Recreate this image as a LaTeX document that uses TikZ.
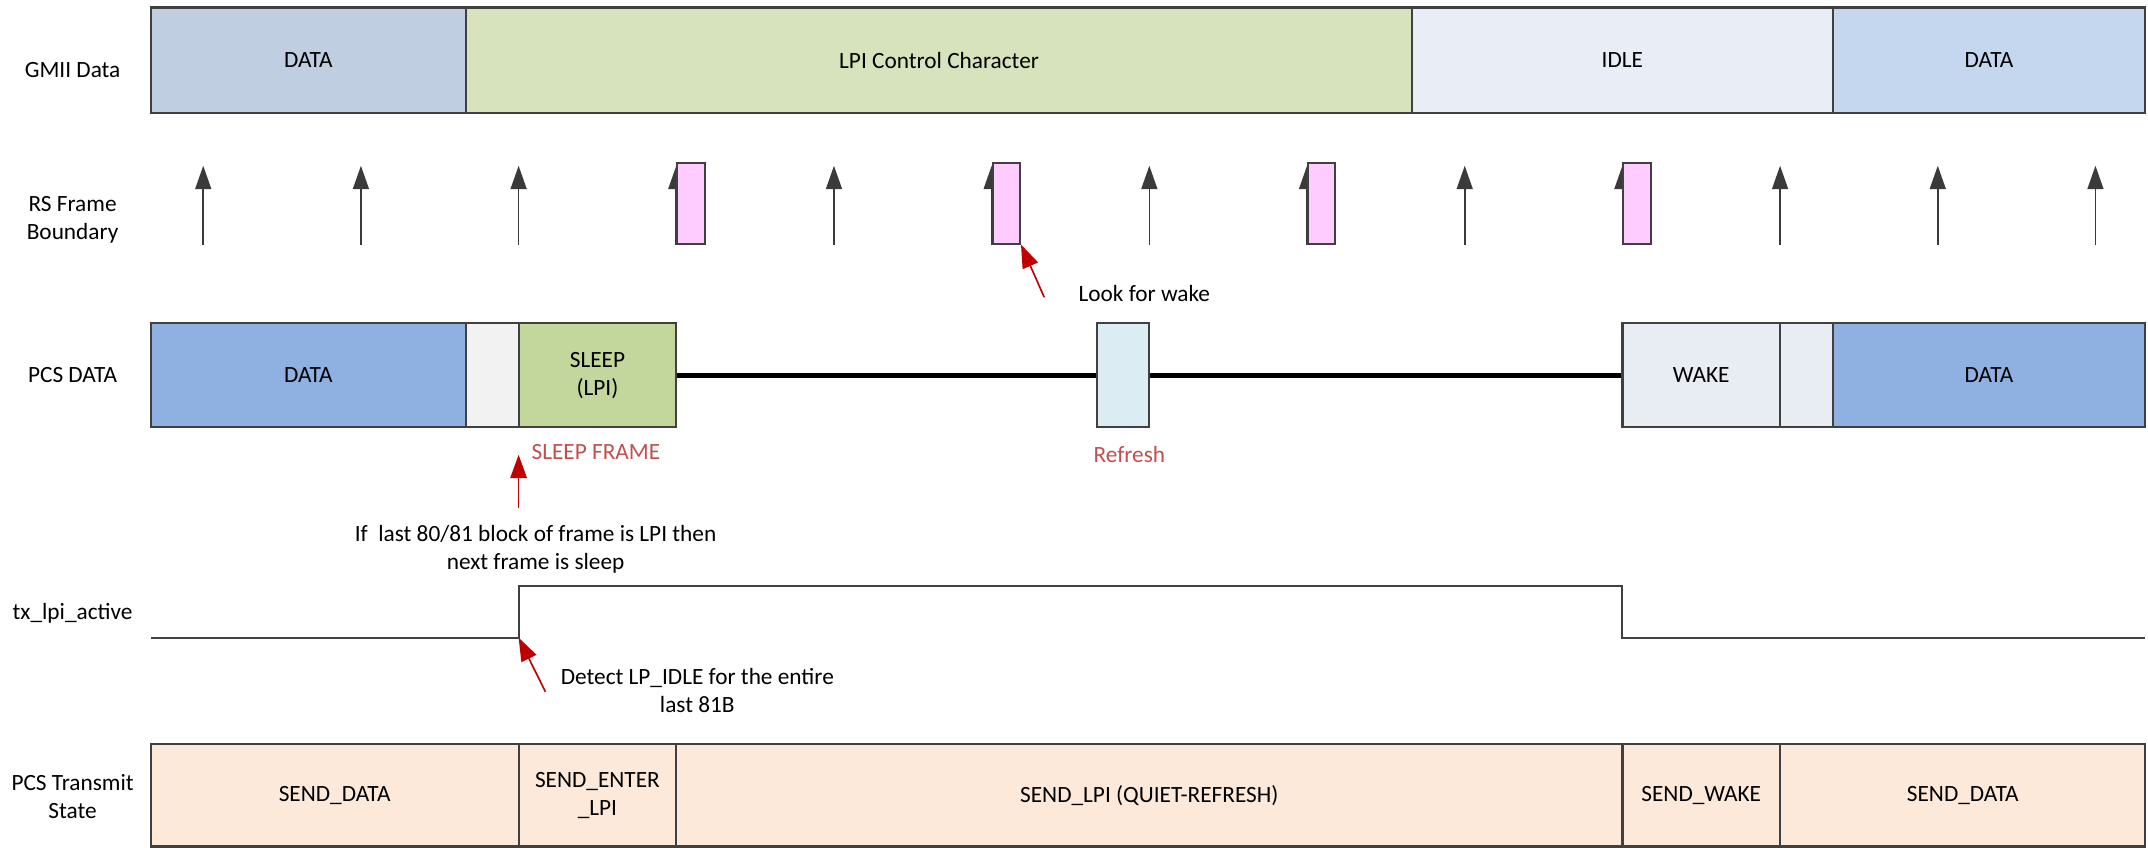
\documentclass[tikz,border=0pt]{standalone}
\usepackage{fontspec}
\setmainfont{Carlito}
\usetikzlibrary{arrows.meta}
\definecolor{cGa}{HTML}{C0CEE1}
\definecolor{cGb}{HTML}{D7E3BC}
\definecolor{cGc}{HTML}{E9EDF5}
\definecolor{cGd}{HTML}{C5D7EE}
\definecolor{cPd}{HTML}{8EB1E1}
\definecolor{cGray}{HTML}{F2F2F2}
\definecolor{cSleep}{HTML}{C3D69B}
\definecolor{cRef}{HTML}{DBECF2}
\definecolor{cWake}{HTML}{E8EDF4}
\definecolor{cSt}{HTML}{FCE9DA}
\definecolor{cPink}{HTML}{FFCCFF}
\definecolor{cEdge}{HTML}{404040}
\definecolor{cArr}{HTML}{3A3A3A}
\definecolor{cRed}{HTML}{C00000}
\definecolor{cRedT}{HTML}{C0504D}
\newcommand\kw{19.185pt}
\begin{document}
\begin{tikzpicture}[x=19.185pt, y=-0.5pt,
  font=\fontsize{8.5pt}{10.2pt}\selectfont,
  seg/.style={draw=cEdge, line width=0.8pt, inner sep=0pt, align=center},
  lbl/.style={inner sep=0pt, align=center},
  rsarrow/.style={draw=cArr, line width=0.6pt, -{Triangle[length=8.5pt,width=5.8pt]}},
  redarrow/.style={draw=cRed, line width=0.6pt, -{Triangle[length=8.5pt,width=6pt]}},
  pinkbox/.style={draw=cEdge, line width=0.7pt, fill=cPink, inner sep=0pt,
    minimum width=10pt, minimum height=29.25pt, anchor=south west},
  thickline/.style={draw=black, line width=2pt},
  txline/.style={draw=cEdge, line width=0.75pt},
]
\useasboundingbox (-2.8668,0) rectangle (38,619);

% row labels
\node[lbl, anchor=base] (lgmii) at (-1.4855,56.5) {GMII Data};
\node[lbl] (lrs) at (-1.4855,160.8) {RS Frame\\Boundary};
\node[lbl, anchor=base] (lpcs) at (-1.4855,279) {PCS DATA};
\node[lbl, anchor=base] (ltx) at (-1.4855,452.5) {tx\_lpi\_active};
\node[lbl] (lst) at (-1.4855,581.5) {PCS Transmit\\State};

% GMII data row
\node[seg, fill=cGa, minimum width=6*\kw, minimum height=38.5pt] (g1) at (3,44) {DATA};
\node[seg, fill=cGb, minimum width=18*\kw, minimum height=38.5pt] (g2) at (15,44) {LPI Control Character};
\node[seg, fill=cGc, minimum width=8*\kw, minimum height=38.5pt] (g3) at (28,44) {IDLE};
\node[seg, fill=cGd, minimum width=5.95*\kw, minimum height=38.5pt] (g4) at (34.975,44) {DATA};

% RS frame boundary arrows
\foreach \i in {0,...,12} {
  \draw[rsarrow] ({1+3*\i},179) -- ({1+3*\i},121);
}
\foreach \k in {10,16,22,28} {
  \node[pinkbox] (p\k) at (\k,178.5) {};
}
\node[lbl, anchor=base west] (lw) at (17.644,219.8) {Look for wake};
\coordinate (t1) at (17.0,217);
\draw[redarrow] (t1) -- (p16.south east);

% PCS data row
\node[seg, fill=cPd, minimum width=6*\kw, minimum height=38pt] (d1) at (3,274) {DATA};
\node[seg, fill=cGray, minimum width=\kw, minimum height=38pt] (d2) at (6.5,274) {};
\node[seg, fill=cSleep, minimum width=3*\kw, minimum height=38pt] (d3) at (8.5,274) {SLEEP\\(LPI)};
\node[seg, fill=cRef, minimum width=\kw, minimum height=38pt] (d4) at (18.5,274) {};
\node[seg, fill=cWake, minimum width=3*\kw, minimum height=38pt] (d5) at (29.5,274) {WAKE};
\node[seg, fill=cWake, minimum width=\kw, minimum height=38pt] (d6) at (31.5,274) {};
\node[seg, fill=cPd, minimum width=5.95*\kw, minimum height=38pt] (d7) at (34.975,274) {DATA};
\draw[thickline] (d3.east) -- (d4.west);
\draw[thickline] (d4.east) -- (d5.west);

\node[lbl, anchor=base, text=cRedT] (sf) at (8.47,335.2) {SLEEP FRAME};
\node[lbl, anchor=base west, text=cRedT] (rf) at (17.93,337.5) {Refresh};

\coordinate (t2) at (7,371);
\coordinate (h2) at (7,332);
\draw[redarrow] (t2) -- (h2);
\node[lbl] (ifl) at (7.323,400.7) {If\ \ last 80/81 block of frame is LPI then\\next frame is sleep};

% tx_lpi_active
\draw[txline] (0,465.5) -- (7,465.5) coordinate (rise) -- (7,428) -- (28,428) -- (28,466) -- (37.95,466);
\coordinate (t3) at (7.51,505);
\draw[redarrow] (t3) -- (rise);
\node[lbl] (det) at (10.4,504) {Detect LP\_IDLE for the entire\\last 81B};

% PCS transmit state row
\node[seg, fill=cSt, minimum width=7*\kw, minimum height=37.5pt] (s1) at (3.5,580.5) {SEND\_DATA};
\node[seg, fill=cSt, minimum width=3*\kw, minimum height=37.5pt] (s2) at (8.5,580.5) {SEND\_ENTER\\\_LPI};
\node[seg, fill=cSt, minimum width=18*\kw, minimum height=37.5pt] (s3) at (19,580.5) {SEND\_LPI (QUIET-REFRESH)};
\node[seg, fill=cSt, minimum width=3*\kw, minimum height=37.5pt] (s4) at (29.5,580.5) {SEND\_WAKE};
\node[seg, fill=cSt, minimum width=6.95*\kw, minimum height=37.5pt] (s5) at (34.475,580.5) {SEND\_DATA};
\end{tikzpicture}
\end{document}
